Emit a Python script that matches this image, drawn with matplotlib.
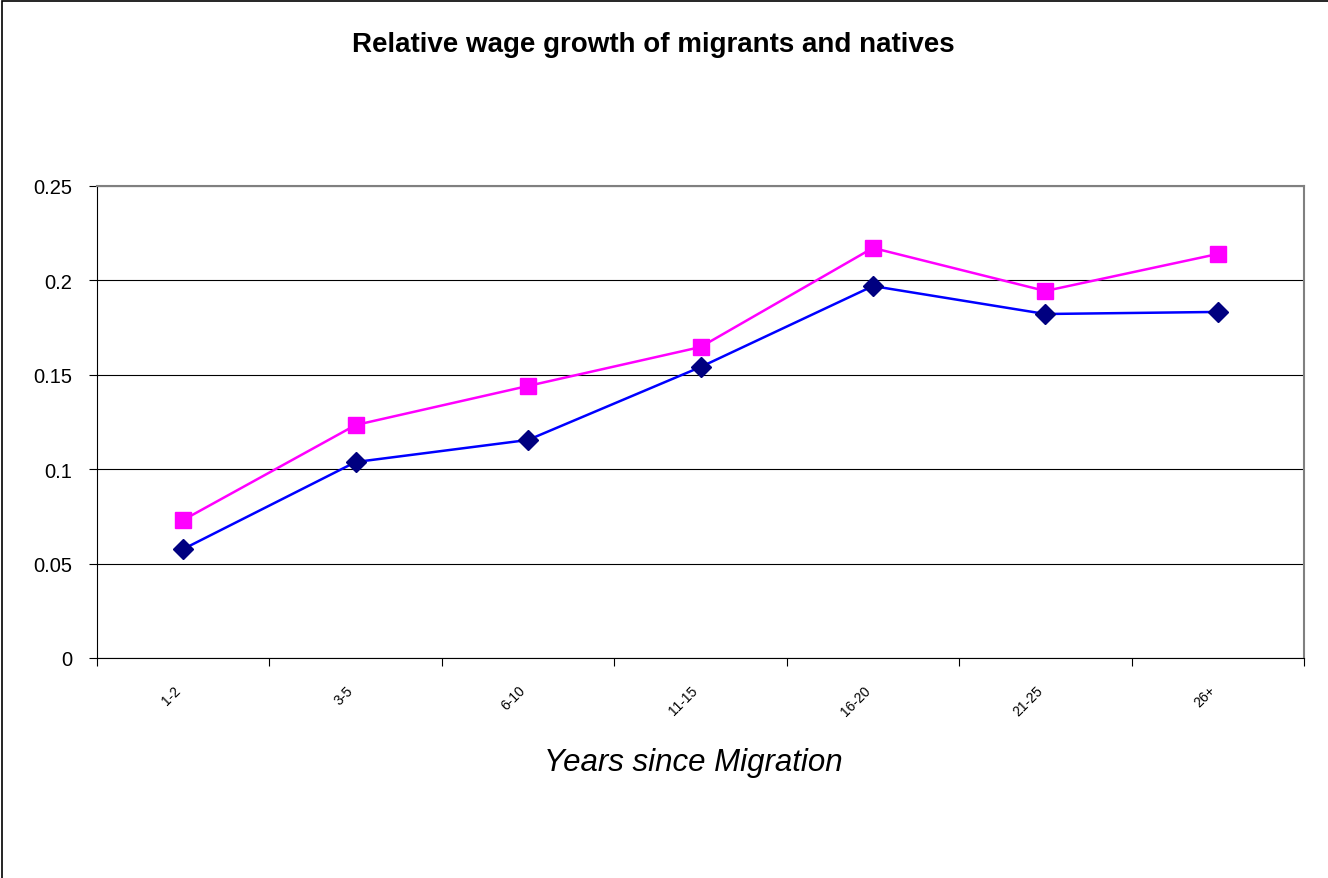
import matplotlib.pyplot as plt
from matplotlib.patches import Rectangle

plt.rcParams['font.family'] = ['Liberation Sans', 'DejaVu Sans']

# data
groups = ['1-2', '3-5', '6-10', '11-15', '16-20', '21-25', '26+']
migrants = [0.0577, 0.1038, 0.1155, 0.1541, 0.1970, 0.1822, 0.1833]
natives = [0.0731, 0.1234, 0.1441, 0.1647, 0.2172, 0.1944, 0.2140]

fig = plt.figure(figsize=(13.28, 8.79), dpi=100)
# outer chart frame
fig.patches.append(Rectangle((0.0015, -0.01), 1.2, 1.0077, transform=fig.transFigure,
                             fill=False, edgecolor='black', linewidth=1.2))

ax = fig.add_axes([97/1328, 1-659/879, (1304-97)/1328, (659-187)/879])
x = list(range(len(groups)))
ax.plot(x, migrants, color='#0000FF', linewidth=1.8, marker='D', markersize=10,
        markerfacecolor='#000080', markeredgecolor='#000080', zorder=3)
ax.plot(x, natives, color='#FF00FF', linewidth=1.8, marker='s', markersize=11,
        markerfacecolor='#FF00FF', markeredgecolor='#FF00FF', zorder=3)

ax.set_xlim(-0.5, len(groups) - 0.5)
ax.set_ylim(0, 0.25)
ax.set_yticks([0, 0.05, 0.1, 0.15, 0.2, 0.25])
ax.set_yticklabels(['0', '0.05', '0.1', '0.15', '0.2', '0.25'], fontsize=14.5)
ax.yaxis.grid(True, color='black', linewidth=0.8)
ax.set_axisbelow(True)

ax.set_xticks([i + 0.5 for i in range(-1, len(groups))], minor=False)
ax.set_xticklabels([])
ax.set_xticks(x, minor=True)
ax.set_xticklabels(groups, minor=True, rotation=45, fontsize=10, ha='right')
ax.tick_params(axis='x', which='major', length=6, direction='out')
ax.tick_params(axis='x', which='minor', length=0, pad=18)
ax.tick_params(axis='y', length=6, direction='out', pad=12)

for side in ['top', 'right']:
    ax.spines[side].set_color('#808080')
    ax.spines[side].set_linewidth(1.5)
ax.spines['left'].set_color('black')
ax.spines['bottom'].set_color('black')

fig.text(693/1328, 1-763/879, 'Years since Migration', ha='center', va='center',
         fontsize=22.5, style='italic')
fig.text(0.492, 1-45/879, 'Relative wage growth of migrants and natives',
         ha='center', va='center', fontsize=20, fontweight='bold')

fig.savefig('out.png', dpi=100)
